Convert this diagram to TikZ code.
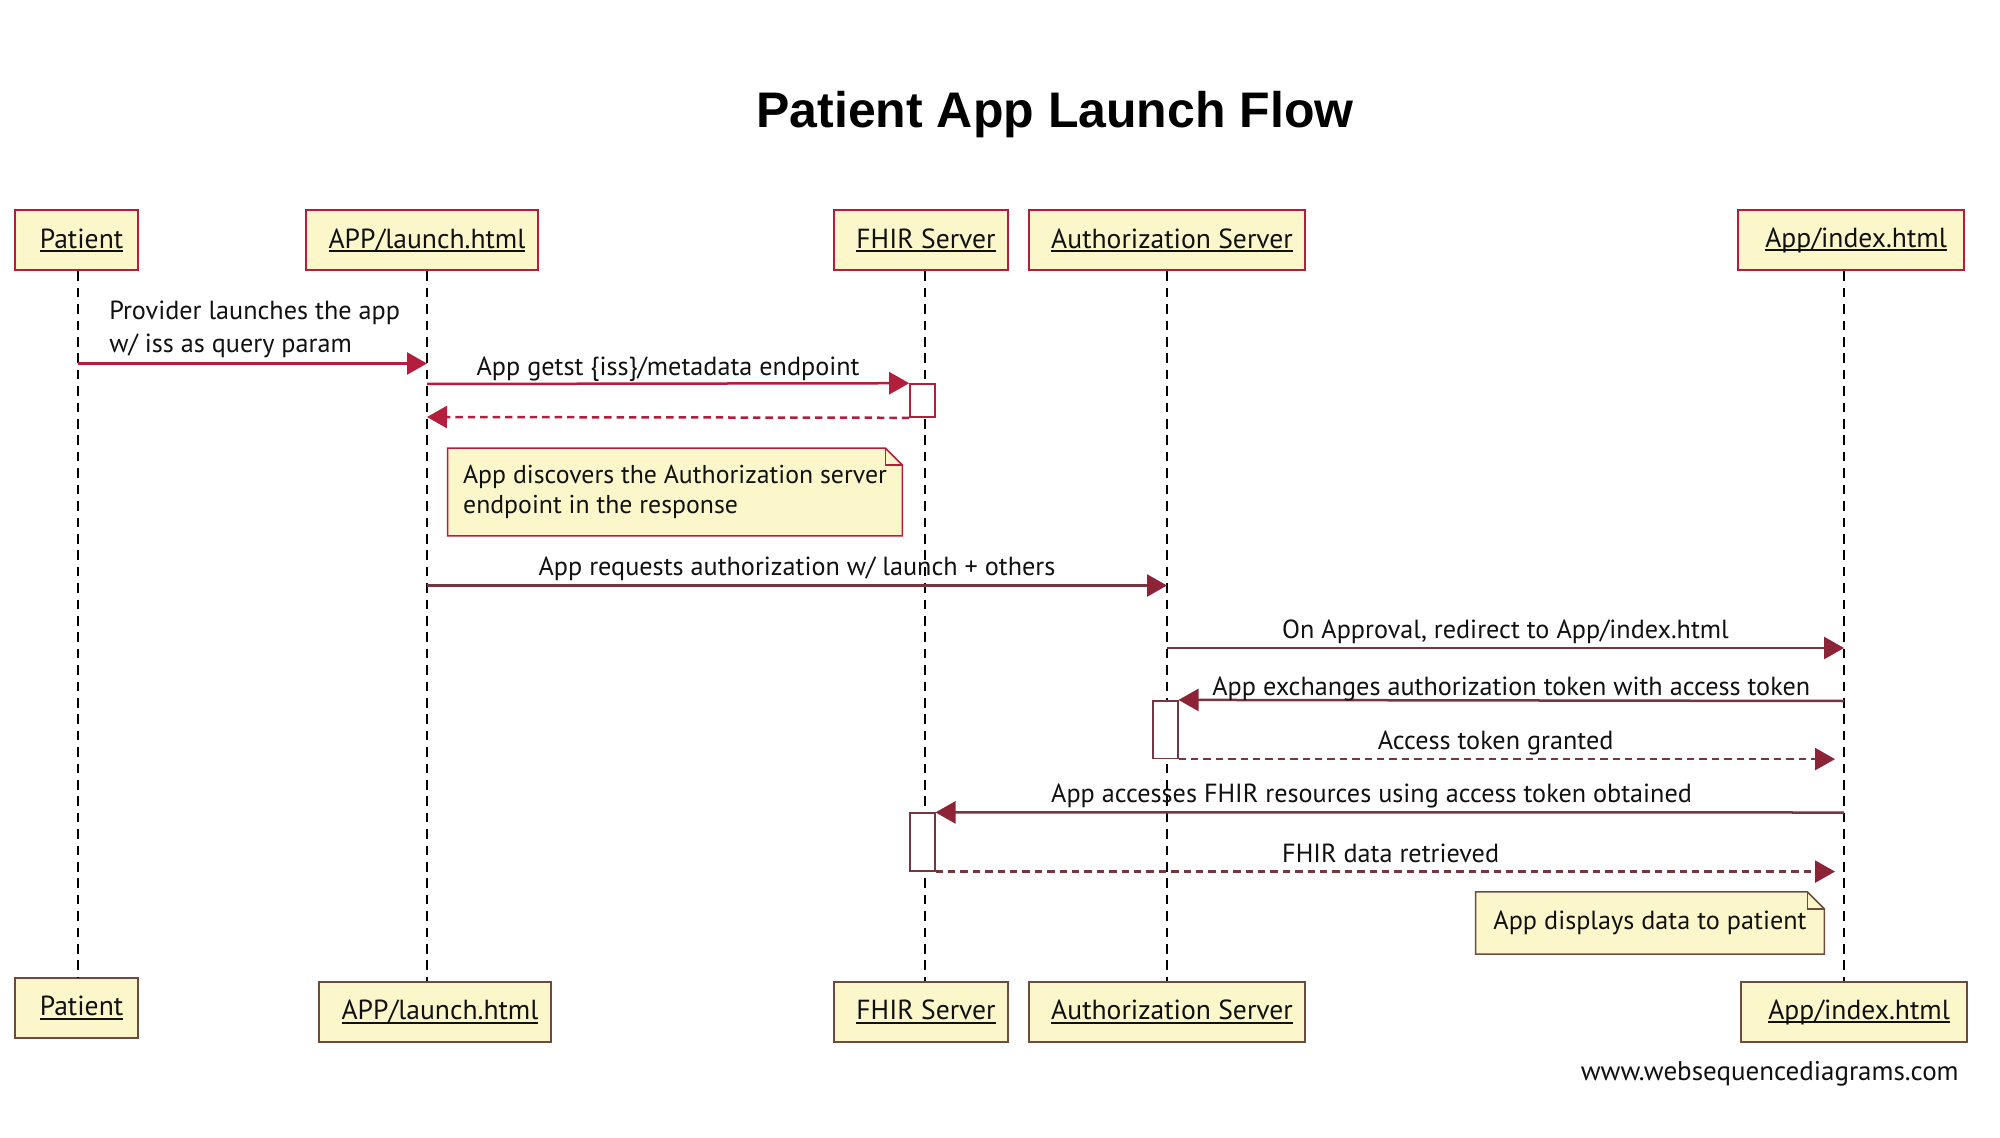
\documentclass[tikz,border=0pt]{standalone}
\usepackage{fontspec}
\setmainfont{PT Sans}
\newfontfamily\titlefont{Liberation Sans}
\usetikzlibrary{arrows.meta,calc,backgrounds}
\definecolor{boxfill}{HTML}{FBF7CB}
\definecolor{crim}{HTML}{B21E3C}
\definecolor{brownb}{HTML}{6E4B41}
\definecolor{lineb}{HTML}{763540}
\definecolor{headb}{HTML}{8C2337}
\definecolor{txt}{HTML}{111111}
\newcommand\lbl{\fontsize{13.1}{16.5}\selectfont}
\newcommand\notefont{\fontsize{12.9}{14.8}\selectfont}
\newcommand\actfont{\fontsize{13.8}{16.5}\selectfont}
\newcommand\myul[1]{\hspace*{5pt}\setbox0=\hbox{#1}\leavevmode\copy0\kern-\wd0\vrule width\wd0 height -0.9pt depth 1.9pt\relax}
\begin{document}
\begin{tikzpicture}[x=0.5pt,y=-0.5pt,
  actor/.style={draw=crim, fill=boxfill, line width=1pt, inner sep=0pt, minimum height=30pt, font=\actfont, text=txt},
  actorB/.style={actor, draw=brownb},
  lifeline/.style={draw=black, line width=1.45pt, dash pattern=on 4.8pt off 3.4pt},
  msgA/.style={draw=crim, line width=1.25pt, -{Triangle[length=10pt,width=11pt,color=crim]}},
  msgB/.style={draw=lineb, line width=1.25pt, -{Triangle[length=10pt,width=11pt,color=headb]}},
  ret/.style={dash pattern=on 3.7pt off 2.5pt},
  act/.style={draw=crim, fill=white, line width=0.8pt, minimum width=12.5pt, inner sep=0pt},
  actB/.style={act, draw=lineb},
  lab/.style={anchor=base, yshift=4.8pt, font=\lbl, inner sep=0pt, text=txt},
  notebody/.style={fill=boxfill, draw=crim, line width=0.8pt, line join=miter},
  notebodyB/.style={notebody, draw=brownb}
]
\begin{scope}[on background layer]
  \fill[white] (0,0) rectangle (2000,1138);
\end{scope}
\useasboundingbox (0,0) rectangle (2000,1138);

% title
\node[font=\titlefont\bfseries\fontsize{25}{30}\selectfont] (title) at (1055,115) {Patient App Launch Flow};

% lifeline x positions and message levels
\coordinate (lP) at (78,0);
\coordinate (lA) at (427,0);
\coordinate (lF) at (925,0);
\coordinate (lZ) at (1167,0);
\coordinate (lI) at (1844,0);
\coordinate (eI) at (1835,0);
\coordinate (y1) at (0,363.5);
\coordinate (y2) at (0,384);
\coordinate (y3) at (0,417);
\coordinate (y4) at (0,585.5);
\coordinate (y5) at (0,648);
\coordinate (y6) at (0,701);
\coordinate (y8) at (0,812.5);

% top actors
\node[actor, minimum width=61.5pt] (pT) at (76.5,240.5) {\myul{Patient}};
\node[actor, minimum width=116pt] (aT) at (422,240.5) {\myul{APP/launch.html}};
\node[actor, minimum width=87pt] (fT) at (921,240.5) {\myul{FHIR Server}};
\node[actor, minimum width=138pt] (zT) at (1167,240.5) {\myul{Authorization Server}};
\node[actor, minimum width=113pt] (iT) at (1851,240.5) {\myul{App/index.html}};

% bottom actors
\node[actorB, minimum width=61.5pt] (pB) at (76.5,1008) {\myul{Patient}};
\node[actorB, minimum width=116pt] (aB) at (435,1012) {\myul{APP/launch.html}};
\node[actorB, minimum width=87pt] (fB) at (921,1012) {\myul{FHIR Server}};
\node[actorB, minimum width=138pt] (zB) at (1167,1012) {\myul{Authorization Server}};
\node[actorB, minimum width=113pt] (iB) at (1854,1012) {\myul{App/index.html}};

% lifelines
\draw[lifeline] (pT.south -| lP) -- (pB.north -| lP);
\draw[lifeline] (aT.south -| lA) -- (aB.north -| lA);
\draw[lifeline] (fT.south -| lF) -- (fB.north -| lF);
\draw[lifeline] (zT.south -| lZ) -- (zB.north -| lZ);
\draw[lifeline] (iT.south -| lI) -- (iB.north -| lI);

% activation boxes
\node[act, minimum height=16.5pt] (act1) at (922.5,400.5) {};
\node[actB, minimum height=28.8pt] (act2) at (1165.2,729.5) {};
\node[actB, minimum height=28.8pt] (act3) at (922.2,842) {};

% messages
\draw[msgA] (lP |- y1) -- node[pos=0, anchor=south west, xshift=15pt, yshift=2.2pt, font=\lbl, align=left, inner sep=0pt, text=txt] {Provider launches the app\\w/ iss as query param} (lA |- y1);
\draw[msgA] (lA |- y2) -- node[lab, yshift=-1pt] {App getst \{iss\}/metadata endpoint} (act1.north west);
\draw[msgA, ret] (act1.south west) -- (lA |- y3);

\draw[msgB] (lA |- y4) -- node[lab] {App requests authorization w/ launch + others} (lZ |- y4);
\draw[msgB] (lZ |- y5) -- node[lab] {On Approval, redirect to App/index.html} (lI |- y5);
\draw[msgB] (lI |- y6) -- node[lab, yshift=-2.2pt] {App exchanges authorization token with access token} (act2.north east);
\draw[msgB, ret] (act2.south east) -- node[lab, pos=0.483] {Access token granted} (act2.south east -| eI);
\draw[msgB] (lI |- y8) -- node[lab, pos=0.52] {App accesses FHIR resources using access token obtained} (act3.north east);
\draw[msgB, ret] (act3.south east) -- node[lab, pos=0.506] {FHIR data retrieved} (act3.south east -| eI);

% notes
\node[font=\notefont, align=left, inner xsep=7pt, inner ysep=0pt, minimum width=227pt, minimum height=43.5pt, text=txt] (n1) at (675,492) {App discovers the Authorization server\\endpoint in the response};
\node[font=\lbl, align=center, minimum width=174pt, minimum height=30.75pt, inner sep=0pt, text=txt] (n2) at (1650,923) {App displays data to patient};
\begin{scope}[on background layer]
  \path[notebody] (n1.north west) -- ($(n1.north east)+(-17,0)$) -- ($(n1.north east)+(0,17)$) -- (n1.south east) -- (n1.south west) -- cycle;
  \draw[draw=crim, line width=0.8pt] ($(n1.north east)+(-17,0)$) -- ($(n1.north east)+(-17,17)$) -- ($(n1.north east)+(0,17)$);
  \path[notebodyB] (n2.north west) -- ($(n2.north east)+(-17,0)$) -- ($(n2.north east)+(0,17)$) -- (n2.south east) -- (n2.south west) -- cycle;
  \draw[draw=brownb, line width=0.8pt] ($(n2.north east)+(-17,0)$) -- ($(n2.north east)+(-17,17)$) -- ($(n2.north east)+(0,17)$);
\end{scope}

% footer
\node[font=\fontsize{13.5}{16}\selectfont, anchor=east, inner sep=0pt, text=txt] (foot) at (1959,1074) {www.websequencediagrams.com};
\end{tikzpicture}
\end{document}
